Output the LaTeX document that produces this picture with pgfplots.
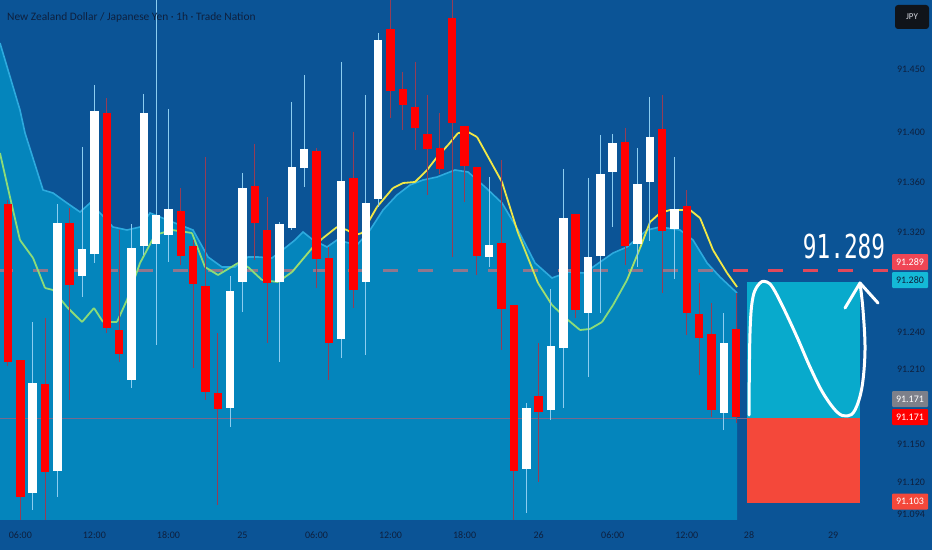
\documentclass[border=0pt]{standalone}
\usepackage{pgfplots}
\pgfplotsset{compat=1.18}
\usepackage{pgfplotstable}
\usepackage{fontspec}
\setmainfont{Carlito}
\newfontfamily\bigfont{DejaVu Sans Mono}
\definecolor{bg}{RGB}{11,84,150}
\definecolor{areaC}{RGB}{4,133,188}
\definecolor{areaE}{RGB}{45,170,222}
\definecolor{candR}{RGB}{255,0,0}
\definecolor{wickR}{RGB}{150,60,85}
\definecolor{wickW}{RGB}{140,205,240}
\definecolor{txt}{RGB}{14,32,62}
\definecolor{cyanbox}{RGB}{8,170,204}
\definecolor{redbox}{RGB}{244,72,58}
\definecolor{lblA}{RGB}{240,70,85}
\definecolor{lblB}{RGB}{20,185,215}
\definecolor{lblgray}{RGB}{125,128,138}
\definecolor{dashG}{RGB}{145,118,140}
\definecolor{dashR}{RGB}{226,72,90}
\definecolor{pline}{RGB}{120,105,140}
\pgfplotsset{colormap={ema}{rgb255=(140,220,120) rgb255=(242,232,70)}}

\pgfplotstableread{
i o h l c
0 91.3424 91.3456 91.2128 91.2160
1 91.2176 91.2176 91.0880 91.1080
3 91.1984 91.2512 91.0880 91.1280
5 91.3272 91.3392 91.1856 91.2776
8 91.4152 91.4272 91.2392 91.2432
9 91.2416 91.3216 91.2160 91.2224
14 91.3368 91.3552 91.2936 91.3008
15 91.3088 91.3136 91.2112 91.2784
16 91.2768 91.3800 91.1856 91.1920
17 91.1912 91.2392 91.1016 91.1784
20 91.3568 91.3904 91.2976 91.3272
21 91.3216 91.3480 91.2312 91.2792
25 91.3848 91.3872 91.2752 91.2984
26 91.2992 91.3080 91.2016 91.2312
28 91.3632 91.4000 91.2592 91.2736
31 91.4824 91.5200 91.4112 91.4328
32 91.4344 91.4480 91.4016 91.4216
33 91.4200 91.4560 91.3856 91.4032
34 91.3984 91.4296 91.3496 91.3864
35 91.3872 91.4152 91.3664 91.3704
36 91.4912 91.5200 91.3000 91.4072
37 91.4048 91.4048 91.3440 91.3728
38 91.3720 91.3720 91.2856 91.3008
40 91.3112 91.3776 91.2256 91.2584
41 91.2616 91.2616 91.0880 91.1288
43 91.1888 91.2312 91.1200 91.1760
46 91.3344 91.3344 91.2512 91.2576
50 91.3920 91.4032 91.2936 91.3088
53 91.4024 91.4296 91.2712 91.3208
55 91.3408 91.3536 91.2376 91.2552
56 91.2544 91.2792 91.2056 91.2352
57 91.2384 91.2632 91.1720 91.1776
59 91.2424 91.2712 91.1672 91.1720
}\redC

\pgfplotstableread{
i o h l c
2 91.1112 91.2480 91.0976 91.1992
4 91.1288 91.3424 91.1080 91.3272
6 91.2848 91.3880 91.2680 91.3064
7 91.3024 91.4376 91.2952 91.4168
10 91.2016 91.3264 91.1952 91.3072
11 91.3088 91.4304 91.3016 91.4152
12 91.3104 91.5200 91.2296 91.3336
13 91.3176 91.4184 91.2960 91.3384
18 91.1792 91.2848 91.1640 91.2728
19 91.2800 91.3672 91.2560 91.3552
22 91.2800 91.3280 91.2160 91.3264
23 91.3232 91.4240 91.3216 91.3720
24 91.3712 91.4456 91.3560 91.3864
27 91.2344 91.4560 91.2192 91.3608
29 91.2800 91.4296 91.2216 91.3432
30 91.3464 91.4792 91.3400 91.4736
39 91.3000 91.3640 91.2920 91.3096
42 91.1304 91.1832 91.0952 91.1792
44 91.1776 91.2744 91.1696 91.2288
45 91.2272 91.3704 91.1792 91.3312
47 91.2552 91.3632 91.2040 91.3000
48 91.3008 91.3976 91.2552 91.3664
49 91.3680 91.3984 91.3240 91.3912
51 91.3104 91.3872 91.2920 91.3584
52 91.3600 91.4280 91.3128 91.3960
54 91.3224 91.3800 91.2824 91.3384
58 91.1752 91.2552 91.1616 91.2312
}\whiteC

\pgfplotstableread{
x p
-0.65 91.4712
0.97 91.4176
1.38 91.3992
2.84 91.3536
3.65 91.3512
4.78 91.3432
5.84 91.3360
6.65 91.3432
7.46 91.3352
8.51 91.3240
9.64 91.3216
10.70 91.3240
11.51 91.3352
13.53 91.3272
14.99 91.3216
16.21 91.3000
17.34 91.2920
18.40 91.2920
19.45 91.3000
20.26 91.3000
21.39 91.2992
22.45 91.3072
23.26 91.3136
23.91 91.3200
24.72 91.3136
25.85 91.3080
26.66 91.3136
28.28 91.3096
29.34 91.3216
30.39 91.3376
31.52 91.3496
32.58 91.3576
33.63 91.3616
34.77 91.3640
36.22 91.3696
37.28 91.3680
38.66 91.3560
40.03 91.3432
41.33 91.3216
42.71 91.2952
44.08 91.2832
45.38 91.2880
46.76 91.2872
47.41 91.2920
49.03 91.3032
50.16 91.3080
51.78 91.3216
52.84 91.3240
54.46 91.3216
55.51 91.3136
56.65 91.2952
57.70 91.2840
59.08 91.2712
}\areaT

\pgfplotstableread{
x p m
-0.65 91.3832 0
0.16 91.3480 0
0.97 91.3136 0
2.03 91.2992 0
3.00 91.2752 0
3.65 91.2736 0
4.78 91.2600 0
6.00 91.2480 0
6.97 91.2592 0
7.70 91.2480 0
8.83 91.2480 0
9.64 91.2656 0
10.70 91.2952 0
11.91 91.3176 0
13.29 91.3216 0
14.91 91.3192 0
15.96 91.2920 0
17.02 91.2856 0
18.64 91.2952 0
19.45 91.2920 0
20.58 91.2816 0
21.88 91.2800 0
23.02 91.2880 0
24.72 91.3080 0.4
25.53 91.3152 0.8
26.66 91.3240 1
27.47 91.3216 1
28.12 91.3176 1
28.69 91.3192 1
29.90 91.3400 1
31.20 91.3552 1
32.01 91.3592 1
32.98 91.3600 1
33.96 91.3696 1
34.77 91.3800 1
35.66 91.3896 1
36.47 91.3992 1
37.28 91.4000 1
38.01 91.3960 1
40.03 91.3600 1
41.33 91.3192 0.9
42.95 91.2792 0.4
44.08 91.2616 0
45.38 91.2496 0
46.35 91.2416 0
47.16 91.2424 0
48.14 91.2480 0
49.03 91.2616 0
50.16 91.2816 0
51.22 91.3072 0.5
52.03 91.3280 1
52.84 91.3352 1
53.65 91.3376 1
55.27 91.3376 1
56.08 91.3312 1
57.13 91.3056 1
58.27 91.2872 1
59.08 91.2760 1
}\emaT

\begin{document}
\begin{tikzpicture}[x=1pt,y=1pt]
\fill[bg] (0,0) rectangle (932,550);
\begin{axis}[at={(0pt,31pt)}, anchor=south west, scale only axis,
  width=888pt, height=519pt,
  xmin=-0.648, xmax=71.31, ymin=91.0904, ymax=91.5056,
  axis line style={draw=none}, tick style={draw=none},
  xtick={1,7,13,19,25,31,37,43,49,55,60.05,66.86},
  xticklabels={06:00,12:00,18:00,25,06:00,12:00,18:00,26,06:00,12:00,28,29},
  ytick={91.12,91.15,91.21,91.24,91.32,91.36,91.40,91.45},
  yticklabels={91.120,91.150,91.210,91.240,91.320,91.360,91.400,91.450},
  yticklabel pos=right,
  xticklabel style={font=\fontsize{10}{12}\selectfont, text=txt, anchor=center, yshift=-16pt},
  yticklabel style={font=\fontsize{10}{12}\selectfont, text=txt, anchor=center, xshift=23pt},
  colormap name=ema,
]
% area
\addplot[fill=areaC, draw=none, forget plot] table[x=x,y=p] {\areaT} -- (axis cs:59.08,91.05) -- (axis cs:-0.65,91.05) -- cycle;
\addplot[areaE, line width=1.6pt, forget plot] table[x=x,y=p] {\areaT};
% level lines
\draw[pline, line width=0.8pt] (axis cs:-0.65,91.171) -- (axis cs:59.9,91.171);
\draw[dashG, line width=3pt, dash pattern=on 15pt off 20pt] (axis cs:-0.81,91.289) -- (axis cs:58.75,91.289);
\draw[dashR, line width=3pt, dash pattern=on 15pt off 20pt] (axis cs:58.75,91.289) -- (axis cs:71.31,91.289);
% EMA
\addplot[mesh, point meta=explicit, point meta min=0, point meta max=1, line width=1.8pt, forget plot] table[x=x,y=p,meta=m] {\emaT};
% wicks
\addplot[draw=none, mark=none, forget plot, error bars/.cd, y dir=minus, y explicit, error mark=none,
  error bar style={draw=wickR, line width=1pt}]
  table[x=i, y=h, y error minus expr=\thisrow{h}-\thisrow{l}] {\redC};
\addplot[draw=none, mark=none, forget plot, error bars/.cd, y dir=minus, y explicit, error mark=none,
  error bar style={draw=wickW, line width=1pt}]
  table[x=i, y=h, y error minus expr=\thisrow{h}-\thisrow{l}] {\whiteC};
% bodies
\addplot[draw=none, mark=none, forget plot, error bars/.cd, y dir=minus, y explicit, error mark=none,
  error bar style={draw=candR, line width=8.4pt}]
  table[x=i, y=o, y error minus expr=\thisrow{o}-\thisrow{c}] {\redC};
\addplot[draw=none, mark=none, forget plot, error bars/.cd, y dir=minus, y explicit, error mark=none,
  error bar style={draw=white, line width=8.4pt}]
  table[x=i, y=c, y error minus expr=\thisrow{c}-\thisrow{o}] {\whiteC};
% position tool
\fill[cyanbox] (axis cs:59.89,91.171) rectangle (axis cs:69.07,91.280);
\fill[redbox] (axis cs:59.89,91.103) rectangle (axis cs:69.07,91.171);
\end{axis}
% title
\node[anchor=west, text=txt, font=\fontsize{11.4}{13}\selectfont, inner sep=0pt] at (7,533) {New Zealand Dollar / Japanese Yen · 1h · Trade Nation};
% white stroke
\draw[white, line width=3pt, line cap=round, line join=round] plot[smooth, tension=0.6] coordinates {
 (749,135) (750,217) (753,253) (760,267) (767,268) (773,262) (783,243) (797,213) (810,183) (823,157) (837,138) (847,134) (855,140) (862,163) (865,200) (863,240) (860,267)};
\draw[white, line width=3pt, line cap=round, line join=round] (845,242) -- (860,267) -- (878,247);
% big label
\node[white, font=\bigfont\fontsize{33}{38}\selectfont, xscale=0.69, inner sep=0pt] at (844,304) {91.289};
% price scale labels
\node[text=txt, font=\fontsize{10}{12}\selectfont] at (911,36) {91.094};
\tikzset{plbl/.style={minimum width=36pt, minimum height=16pt, inner sep=0pt, rounded corners=1pt, font=\fontsize{10}{12}\selectfont}}
\node[plbl, fill=lblA, text=white] at (910,288) {91.289};
\node[plbl, fill=lblB, text=txt] at (910,270) {91.280};
\node[plbl, fill=lblgray, text=white] at (910,151) {91.171};
\node[plbl, fill=candR, text=white] at (910,133) {91.171};
\node[plbl, fill=redbox, text=white] at (910,48.5) {91.103};
\node[fill={rgb,255:red,16;green,20;blue,26}, rounded corners=3pt, minimum width=34pt, minimum height=24pt, inner sep=0pt, text={rgb,255:red,210;green,212;blue,220}, font=\fontsize{9}{11}\selectfont] at (912,533) {JPY};
\end{tikzpicture}
\end{document}
